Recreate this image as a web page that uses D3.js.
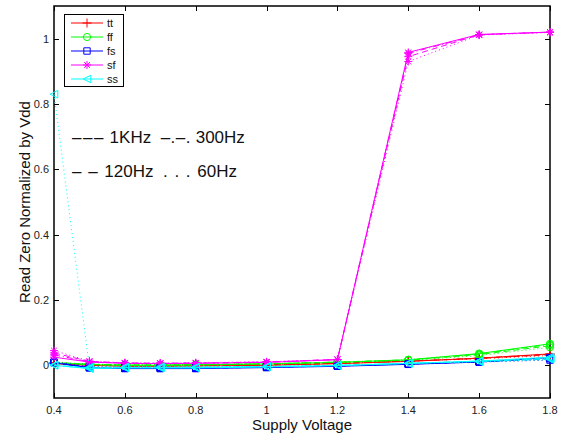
<!DOCTYPE html>
<html>
<head>
<meta charset="utf-8">
<script src="https://cdn.jsdelivr.net/npm/d3@7"></script>
<style>
  html, body { margin: 0; padding: 0; background: #fff; }
  svg { display: block; font-family: "Liberation Sans", Arial, sans-serif; }
</style>
</head>
<body>
<svg id="chart" width="566" height="439"></svg>
<script>
// Supply voltages swept (V)
const voltages = [0.4, 0.5, 0.6, 0.7, 0.8, 1.0, 1.2, 1.4, 1.6, 1.8];

// Read frequencies, each drawn with its own line style
const frequencies = ["1KHz", "300Hz", "120Hz", "60Hz"];

// Read-zero level normalized by Vdd; one row per frequency (1KHz, 300Hz, 120Hz, 60Hz)
const tt = [
  [0.005, 0.000, -0.003, -0.003, -0.002, 0.000, 0.005, 0.012, 0.022, 0.035],
  [0.006, 0.001, -0.002, -0.002, -0.001, 0.001, 0.006, 0.013, 0.022, 0.034],
  [0.007, 0.002, -0.001, -0.001, 0.000, 0.002, 0.006, 0.013, 0.021, 0.033],
  [0.008, 0.003, 0.000, 0.000, 0.001, 0.003, 0.007, 0.013, 0.020, 0.030]
];
const ff = [
  [0.008, 0.002, 0.000, 0.000, 0.001, 0.004, 0.009, 0.017, 0.036, 0.066],
  [0.008, 0.003, 0.001, 0.001, 0.002, 0.005, 0.010, 0.017, 0.035, 0.064],
  [0.009, 0.003, 0.001, 0.001, 0.002, 0.005, 0.010, 0.016, 0.033, 0.060],
  [0.009, 0.004, 0.002, 0.002, 0.003, 0.005, 0.009, 0.015, 0.030, 0.055]
];
const fs = [
  [0.008, -0.008, -0.010, -0.010, -0.010, -0.007, -0.003, 0.003, 0.010, 0.024],
  [0.008, -0.007, -0.009, -0.009, -0.009, -0.006, -0.002, 0.004, 0.011, 0.022],
  [0.009, -0.006, -0.008, -0.008, -0.008, -0.005, -0.002, 0.004, 0.011, 0.020],
  [0.010, -0.004, -0.006, -0.006, -0.006, -0.004, -0.001, 0.004, 0.010, 0.016]
];
const sf = [
  [0.025, 0.010, 0.006, 0.005, 0.006, 0.009, 0.017, 0.958, 1.013, 1.020],
  [0.032, 0.011, 0.007, 0.006, 0.007, 0.010, 0.018, 0.955, 1.012, 1.020],
  [0.038, 0.012, 0.007, 0.006, 0.007, 0.010, 0.018, 0.945, 1.012, 1.020],
  [0.045, 0.013, 0.008, 0.007, 0.008, 0.011, 0.018, 0.930, 1.011, 1.019]
];
const ss = [
  [0.000, -0.010, -0.008, -0.008, -0.008, -0.005, -0.001, 0.006, 0.013, 0.025],
  [0.000, -0.009, -0.007, -0.007, -0.007, -0.004, 0.000, 0.006, 0.013, 0.022],
  [0.001, -0.008, -0.006, -0.006, -0.006, -0.004, 0.000, 0.006, 0.012, 0.020],
  [0.830, -0.006, -0.005, -0.005, -0.005, -0.003, 0.000, 0.006, 0.011, 0.018]
];

// Process corners with colour and marker shape
const cornerNames = ["tt", "ff", "fs", "sf", "ss"];
const cornerData = [tt, ff, fs, sf, ss];
const cornerColors = ["#ff0000", "#00ff00", "#0000ff", "#ff00ff", "#00ffff"];
const cornerMarkers = ["plus", "circle", "square", "star", "triangleLeft"];

// Dash pattern per frequency: solid, dash-dot, dashed, dotted
const freqDash = [null, "6,3,1,3", "6,4", "1,3"];

const xTicks = [0.4, 0.6, 0.8, 1.0, 1.2, 1.4, 1.6, 1.8];
const yTicks = [0, 0.2, 0.4, 0.6, 0.8, 1.0];

const svg = d3.select("#chart");
const plotLeft = 54, plotRight = 550, plotTop = 6, plotBottom = 398;

const x = d3.scaleLinear().domain([0.4, 1.8]).range([plotLeft, plotRight]);
const y = d3.scaleLinear().domain([-0.1, 1.1]).range([plotBottom, plotTop]);

// Marker path generators (centered at 0,0)
function markerPath(kind, r) {
  switch (kind) {
    case "plus": return `M${-r},0H${r}M0,${-r}V${r}`;
    case "circle": return `M${r},0A${r},${r} 0 1,1 ${-r},0A${r},${r} 0 1,1 ${r},0Z`;
    case "square": return `M${-r},${-r}H${r}V${r}H${-r}Z`;
    case "star": {
      const d = r * 0.72;
      return `M${-r},0H${r}M0,${-r}V${r}M${-d},${-d}L${d},${d}M${-d},${d}L${d},${-d}`;
    }
    case "triangleLeft": return `M${-r},0L${r},${-r}L${r},${r}Z`;
  }
}
const markerSize = { plus: 4.5, circle: 3.6, square: 3.2, star: 4, triangleLeft: 3.8 };

// Box and ticks
const axisG = svg.append("g");
axisG.append("rect")
  .attr("x", plotLeft).attr("y", plotTop)
  .attr("width", plotRight - plotLeft).attr("height", plotBottom - plotTop)
  .attr("fill", "none").attr("stroke", "#000").attr("stroke-width", 1.5);

const tickLen = 5;
xTicks.forEach(t => {
  const px = Math.round(x(t)) + 0.5;
  axisG.append("line").attr("x1", px).attr("x2", px).attr("y1", plotBottom).attr("y2", plotBottom - tickLen)
    .attr("stroke", "#000");
  axisG.append("line").attr("x1", px).attr("x2", px).attr("y1", plotTop).attr("y2", plotTop + tickLen)
    .attr("stroke", "#000");
  axisG.append("text").attr("x", x(t)).attr("y", plotBottom + 16)
    .attr("text-anchor", "middle").attr("font-size", 11).attr("fill", "#222")
    .text(t === 1 ? "1" : d3.format(".1f")(t));
});
yTicks.forEach(t => {
  const py = Math.round(y(t)) + 0.5;
  axisG.append("line").attr("x1", plotLeft).attr("x2", plotLeft + tickLen).attr("y1", py).attr("y2", py)
    .attr("stroke", "#000");
  axisG.append("line").attr("x1", plotRight).attr("x2", plotRight - tickLen).attr("y1", py).attr("y2", py)
    .attr("stroke", "#000");
  axisG.append("text").attr("x", plotLeft - 5).attr("y", y(t)).attr("dy", "0.35em")
    .attr("text-anchor", "end").attr("font-size", 11).attr("fill", "#222")
    .text(t === 0 ? "0" : t === 1 ? "1" : d3.format(".1f")(t));
});

// Axis titles
svg.append("text").attr("x", (plotLeft + plotRight) / 2).attr("y", 430)
  .attr("text-anchor", "middle").attr("font-size", 15).attr("fill", "#111")
  .text("Supply Voltage");
svg.append("text")
  .attr("transform", `translate(30,${(plotTop + plotBottom) / 2}) rotate(-90)`)
  .attr("text-anchor", "middle").attr("font-size", 15).attr("fill", "#111")
  .text("Read Zero Normalized by Vdd");

// Data lines and markers
const line = d3.line().x((d, i) => x(voltages[i])).y(d => y(d));
const plotG = svg.append("g");
cornerData.forEach((series, ci) => {
  series.forEach((vals, fi) => {
    plotG.append("path")
      .attr("d", line(vals))
      .attr("fill", "none")
      .attr("stroke", cornerColors[ci])
      .attr("stroke-width", 1)
      .attr("stroke-dasharray", freqDash[fi]);
    plotG.selectAll(null).data(vals).enter().append("path")
      .attr("transform", (d, i) => `translate(${x(voltages[i])},${y(d)})`)
      .attr("d", markerPath(cornerMarkers[ci], markerSize[cornerMarkers[ci]]))
      .attr("fill", "none")
      .attr("stroke", cornerColors[ci])
      .attr("stroke-width", 1);
  });
});

// Legend
const lg = svg.append("g");
lg.append("rect").attr("x", 64.5).attr("y", 14.5).attr("width", 59).attr("height", 72)
  .attr("fill", "#fff").attr("stroke", "#000").attr("stroke-width", 1);
cornerNames.forEach((name, ci) => {
  const ly = 23 + ci * 14;
  lg.append("line").attr("x1", 71).attr("x2", 103).attr("y1", ly).attr("y2", ly)
    .attr("stroke", cornerColors[ci]).attr("stroke-width", 1);
  lg.append("path").attr("transform", `translate(87,${ly})`)
    .attr("d", markerPath(cornerMarkers[ci], markerSize[cornerMarkers[ci]]))
    .attr("fill", "none").attr("stroke", cornerColors[ci]).attr("stroke-width", 1);
  lg.append("text").attr("x", 107).attr("y", ly).attr("dy", "0.35em")
    .attr("font-size", 11).attr("fill", "#111").text(name);
});

// Line-style key for the read frequencies
const key1 = svg.append("text").attr("x", 72).attr("y", 143).attr("font-size", 17)
  .attr("fill", "#111").attr("xml:space", "preserve");
key1.append("tspan").attr("letter-spacing", 1.5).text("\u2013\u2013\u2013");
key1.append("tspan").text(` ${frequencies[0]}  `);
key1.append("tspan").attr("letter-spacing", 0.5).text("\u2013.\u2013.");
key1.append("tspan").text(` ${frequencies[1]}`);

const key2 = svg.append("text").attr("x", 72).attr("y", 177).attr("font-size", 17)
  .attr("fill", "#111").attr("xml:space", "preserve");
key2.append("tspan").attr("letter-spacing", 1).text("\u2013 \u2013 ");
key2.append("tspan").text(`${frequencies[2]}  `);
key2.append("tspan").attr("letter-spacing", 1).text(". . . ");
key2.append("tspan").text(frequencies[3]);
</script>
</body>
</html>
